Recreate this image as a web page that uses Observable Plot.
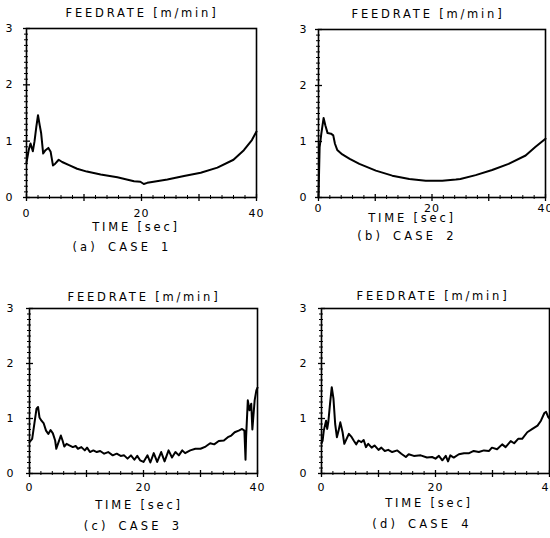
<!DOCTYPE html>
<html><head><meta charset="utf-8">
<script src="https://cdn.jsdelivr.net/npm/d3@7"></script>
<script src="https://cdn.jsdelivr.net/npm/@observablehq/plot@0.6"></script>
<style>
html,body{margin:0;padding:0;background:#fff;}
#chart{position:relative;width:550px;height:538px;overflow:hidden;background:#fff;font-family:"DejaVu Sans",sans-serif;color:#000;}
.panel{position:absolute;}
.panel svg{overflow:visible;}
.panel svg text{letter-spacing:1px;}
.lbl{position:absolute;transform:translate(-50%,-50%);white-space:nowrap;font-size:11.5px;letter-spacing:2.8px;line-height:1;color:#000;}
.lbl.cap{letter-spacing:3.2px;word-spacing:3px;}
</style></head><body><div id="chart"></div>
<script>
// ---- data ----
const titleText = "FEEDRATE [m/min]";
const xLabelText = "TIME [sec]";
const captions = ["(a) CASE 1", "(b) CASE 2", "(c) CASE 3", "(d) CASE 4"];
const xTickLabels = [0, 20, 40];
const yTickLabels = [0, 1, 2, 3];
const xMajorTicks = [0, 10, 20, 30, 40];
const xMinorTicks = [2,4,6,8,12,14,16,18,22,24,26,28,32,34,36,38];
const yMinorTicks = [0.1,0.2,0.3,0.4,0.5,0.6,0.7,0.8,0.9,1.1,1.2,1.3,1.4,1.5,1.6,1.7,1.8,1.9,2.1,2.2,2.3,2.4,2.5,2.6,2.7,2.8,2.9];

const case1Time = [0,0.4,0.7,1.1,1.4,1.7,2.0,2.3,2.55,2.9,3.3,3.8,4.2,4.6,5.0,5.6,6.2,7.5,8.8,10.5,12.9,15.8,18.7,19.8,20.4,21.0,22.1,24.5,27.4,30.3,33.2,36.0,37.8,39.2,40];
const case1Feed = [0.62,0.85,0.96,0.82,1.0,1.25,1.46,1.28,1.14,0.78,0.84,0.88,0.81,0.57,0.6,0.67,0.63,0.57,0.51,0.46,0.41,0.36,0.29,0.28,0.24,0.26,0.28,0.32,0.38,0.44,0.53,0.67,0.84,1.02,1.17];

const case2Time = [0,0.2,0.5,0.9,1.2,1.6,2.2,2.6,2.9,3.3,4.2,5.5,7.2,10.1,13,16,18.9,21.8,24.2,25,27.7,30.6,33.5,36.5,38.2,40];
const case2Feed = [0.0,0.9,1.14,1.42,1.29,1.15,1.14,1.11,0.96,0.85,0.77,0.69,0.60,0.48,0.39,0.33,0.30,0.30,0.32,0.33,0.40,0.49,0.60,0.75,0.90,1.05];

const case3Time = [0,0.47,0.93,1.23,1.5,1.75,2.1,2.5,2.9,3.3,3.7,4.1,4.5,4.7,5.1,5.5,5.8,6.1,6.5,7.0,7.6,8.1,8.5,9.1,9.7,10.1,10.6,11.2,11.8,12.4,13.1,13.8,14.6,15.3,16.0,16.6,17.2,17.8,18.4,18.9,19.4,20.0,20.7,21.2,21.8,22.4,23.1,23.7,24.4,25.0,25.6,26.2,26.8,27.3,28.2,29.1,30.0,30.9,31.7,32.4,33.2,34.1,34.8,35.4,36.0,36.7,37.3,37.7,37.9,38.0,38.3,38.6,38.9,39.1,39.3,39.5,39.8,40];
const case3Feed = [0.57,0.63,0.96,1.18,1.21,1.02,0.96,0.91,0.78,0.72,0.79,0.73,0.6,0.45,0.57,0.69,0.6,0.49,0.54,0.51,0.48,0.5,0.45,0.48,0.42,0.47,0.39,0.42,0.39,0.41,0.36,0.39,0.33,0.36,0.32,0.33,0.27,0.33,0.25,0.32,0.24,0.21,0.33,0.2,0.37,0.21,0.39,0.22,0.42,0.29,0.39,0.33,0.42,0.37,0.42,0.45,0.45,0.49,0.55,0.53,0.59,0.6,0.66,0.69,0.75,0.78,0.81,0.78,0.25,0.66,1.33,1.15,1.27,0.8,1.07,1.33,1.51,1.56];

const case4Time = [0,0.2,0.4,0.8,1.0,1.2,1.5,1.8,2.1,2.4,2.7,3.0,3.3,3.7,4.0,4.4,4.8,5.3,5.7,6.1,6.5,7.0,7.4,7.8,8.2,8.8,9.3,10.0,10.5,11.1,11.7,12.4,13.3,14.0,14.8,15.3,16.2,17.4,18.5,19.4,20.0,20.6,21.2,21.8,22.2,22.6,23.2,24.1,25.0,25.9,26.7,27.6,28.5,29.4,29.9,30.8,31.7,32.3,33.2,33.8,34.5,35.2,36.1,37.0,37.9,38.5,39.1,39.4,39.8,40];
const case4Feed = [0.55,0.6,0.78,0.96,0.81,0.94,1.27,1.57,1.36,0.9,0.66,0.78,0.93,0.75,0.54,0.63,0.72,0.66,0.59,0.53,0.6,0.57,0.61,0.48,0.54,0.47,0.51,0.43,0.47,0.41,0.43,0.39,0.42,0.36,0.3,0.35,0.32,0.33,0.29,0.3,0.27,0.32,0.24,0.32,0.22,0.33,0.29,0.35,0.37,0.37,0.41,0.39,0.42,0.41,0.47,0.44,0.53,0.48,0.59,0.55,0.63,0.63,0.75,0.81,0.87,0.96,1.1,1.12,1.02,1.0];

// ---- layout (pixels) ----
const panels = [
  {time: case1Time, feed: case1Feed, left: 0,   top: 0,   width: 266, height: 237, ml: 26, mt: 28, mr: 10, mb: 40, xPad: 12, yPad: 13, title: [142, 14], xlab: [136, 228], cap: [122, 248]},
  {time: case2Time, feed: case2Feed, left: 275, top: 0,   width: 275, height: 237, ml: 43, mt: 29, mr: 5,  mb: 40, xPad: 7,  yPad: 11, title: [428, 15], xlab: [412, 219], cap: [407, 237]},
  {time: case3Time, feed: case3Feed, left: 0,   top: 269, width: 266, height: 250, ml: 29, mt: 39, mr: 9,  mb: 46, xPad: 10, yPad: 15, title: [144, 298], xlab: [139, 506], cap: [133, 527]},
  {time: case4Time, feed: case4Feed, left: 275, top: 269, width: 275, height: 250, ml: 46, mt: 39, mr: 1,  mb: 46, xPad: 10, yPad: 14, title: [433, 297], xlab: [429, 504], cap: [422, 525]}
];

const chart = document.getElementById("chart");
function addLabel(text, pos, cls) {
  const d = document.createElement("div");
  d.className = "lbl" + (cls ? " " + cls : "");
  d.textContent = text;
  d.style.left = pos[0] + "px";
  d.style.top = pos[1] + "px";
  chart.appendChild(d);
}

panels.forEach((p, i) => {
  const data = p.time.map((t, j) => ({t, v: p.feed[j]}));
  const plotW = p.width - p.ml - p.mr;
  const plotH = p.height - p.mt - p.mb;
  const svg = Plot.plot({
    width: p.width, height: p.height,
    marginLeft: p.ml, marginTop: p.mt, marginRight: p.mr, marginBottom: p.mb,
    x: {domain: [0, 40], axis: null},
    y: {domain: [0, 3], axis: null},
    style: {fontFamily: "DejaVu Sans, sans-serif", fontSize: "11px", color: "#000", background: "transparent"},
    marks: [
      Plot.tickY(yMinorTicks, {y: d => d, insetLeft: -2, insetRight: plotW - 2, stroke: "#000", strokeWidth: 1}),
      Plot.tickY(yTickLabels, {y: d => d, insetLeft: -3, insetRight: plotW - 4, stroke: "#000", strokeWidth: 1.3}),
      Plot.tickX(xMinorTicks, {x: d => d, insetTop: plotH - 2, insetBottom: -2, stroke: "#000", strokeWidth: 1}),
      Plot.tickX(xMajorTicks, {x: d => d, insetTop: plotH - 3, insetBottom: -4, stroke: "#000", strokeWidth: 1.3}),
      Plot.axisY(yTickLabels, {tickSize: 0, tickPadding: p.yPad, tickFormat: d => String(d), label: null}),
      Plot.axisX(xTickLabels, {tickSize: 0, tickPadding: p.xPad, tickFormat: d => String(d), label: null}),
      Plot.frame({stroke: "#000", strokeWidth: 1.6}),
      Plot.line(data, {x: "t", y: "v", stroke: "#000", strokeWidth: 2, strokeLinejoin: "round"})
    ]
  });
  const wrap = document.createElement("div");
  wrap.className = "panel";
  wrap.style.left = p.left + "px";
  wrap.style.top = p.top + "px";
  wrap.appendChild(svg);
  chart.appendChild(wrap);
  addLabel(titleText, p.title);
  addLabel(xLabelText, p.xlab);
  addLabel(captions[i], p.cap, "cap");
});
</script>
</body></html>
